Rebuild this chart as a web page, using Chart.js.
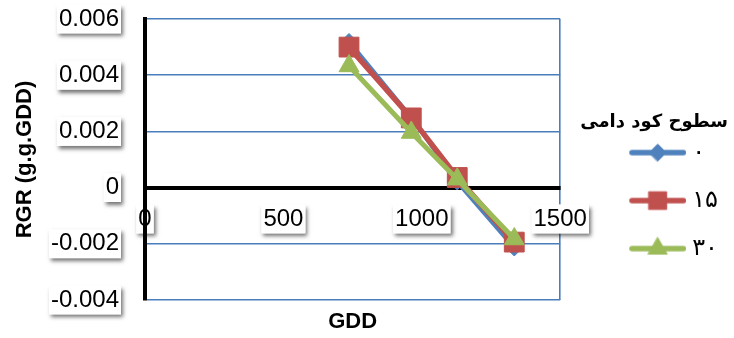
<!DOCTYPE html>
<html>
<head>
<meta charset="utf-8">
<script src="https://cdn.jsdelivr.net/npm/chart.js@4/dist/chart.umd.min.js"></script>
<style>
  html, body { margin: 0; padding: 0; background: #fff; }
  #wrap { width: 734px; height: 338px; }
</style>
</head>
<body>
<div id="wrap"><canvas id="rgr" width="734" height="338"></canvas></div>
<script>
// Growing degree days at each sampling date
const gdd = [737, 962, 1128, 1334];
// Relative growth rate for each manure level
const rgr0  = [0.0052, 0.0025, 0.0002, -0.00215];
const rgr15 = [0.0050, 0.00248, 0.00036, -0.00194];
const rgr30 = [0.00433, 0.00196, 0.0003, -0.00183];
// Manure levels (legend labels)
const levels = ['۰', '۱۵', '۳۰'];
const legendTitle = 'سطوح کود دامی';
// Axis tick labels
const xTickLabels = ['0', '500', '1000', '1500'];
const yTickLabels = ['-0.004', '-0.002', '0', '0.002', '0.004', '0.006'];

const BLUE = '#4F81BD', RED = '#C0504D', GREEN = '#9BBB59', GRID = '#4A7EBB';
const LATIN = "'Liberation Sans', Arial, 'DejaVu Sans', sans-serif";
const ARABIC = "'DejaVu Sans', sans-serif";

Chart.defaults.font.family = LATIN;
Chart.defaults.color = '#000';

const toPoints = vals => vals.map((v, i) => ({ x: gdd[i], y: v }));

const seriesStyle = [
  { color: BLUE,  shape: 'rectRot',  radius: 8,    legendRadius: 8.5,  width: 4,   order: 3 },
  { color: RED,   shape: 'rect',     radius: 14,   legendRadius: 12.5, width: 5.5, order: 2 },
  { color: GREEN, shape: 'triangle', radius: 11.5, legendRadius: 11,   width: 5,   order: 1 }
];
const seriesValues = [rgr0, rgr15, rgr30];

// Legend swatch: a short line with the series marker in the middle
const SWATCH_BOX = 96;
function legendSwatch(st) {
  const c = document.createElement('canvas');
  c.width = 108; c.height = 30;
  const g = c.getContext('2d');
  g.strokeStyle = st.color;
  g.lineWidth = 5.5;
  g.lineCap = 'round';
  g.beginPath(); g.moveTo(53.75, 15); g.lineTo(105.25, 15); g.stroke();
  g.fillStyle = st.color; g.lineWidth = 1;
  Chart.helpers.drawPoint(g, { pointStyle: st.shape, radius: st.legendRadius, rotation: 0, borderWidth: 1 }, 79.5, 15);
  return c;
}
const swatches = seriesStyle.map(legendSwatch);

// Soft drop shadow behind every tick label box
const labelShadow = {
  id: 'labelShadow',
  afterDatasetsDraw(chart) {
    const ctx = chart.ctx;
    ctx.save();
    ctx.shadowColor = 'rgba(0,0,0,0.55)';
    ctx.shadowBlur = 4;
    ctx.shadowOffsetX = 2;
    ctx.shadowOffsetY = 3;
    ctx.fillStyle = '#fff';
    ['x', 'y'].forEach(id => {
      chart.scales[id].getLabelItems().forEach(item => {
        const b = item.options.backdrop;
        if (!b) return;
        const [tx, ty] = item.options.translation;
        ctx.fillRect(tx + b.left, ty + b.top, b.width, b.height);
      });
    });
    ctx.restore();
  }
};

const tickFont = { family: LATIN, size: 24 };

new Chart(document.getElementById('rgr'), {
  type: 'line',
  data: {
    datasets: seriesValues.map((vals, i) => ({
      label: levels[i],
      data: toPoints(vals),
      borderColor: seriesStyle[i].color,
      backgroundColor: seriesStyle[i].color,
      borderWidth: seriesStyle[i].width,
      pointStyle: seriesStyle[i].shape,
      pointRadius: seriesStyle[i].radius,
      pointHoverRadius: seriesStyle[i].radius,
      pointBorderWidth: 1,
      pointBackgroundColor: seriesStyle[i].color,
      pointBorderColor: seriesStyle[i].color,
      tension: 0,
      order: seriesStyle[i].order
    }))
  },
  options: {
    responsive: false,
    animation: false,
    events: [],
    layout: { padding: { top: 19, left: 0, right: 6, bottom: 0 } },
    scales: {
      x: {
        type: 'linear',
        position: { y: 0 },
        min: 0, max: 1500,
        grid: {
          drawTicks: false,
          color: c => (c.tick && c.tick.value === 1500) ? GRID : 'rgba(0,0,0,0)',
          lineWidth: 1.6
        },
        border: { color: '#000', width: 4 },
        ticks: {
          stepSize: 500,
          padding: 17,
          font: tickFont,
          color: '#000',
          z: 1,
          showLabelBackdrop: true,
          backdropColor: '#fff',
          backdropPadding: { top: 0, bottom: 0, left: 2, right: 2 },
          maxRotation: 0,
          callback: (v, i) => xTickLabels[i]
        }
      },
      x2: {
        type: 'linear',
        position: 'bottom',
        grid: { display: false },
        border: { display: false },
        ticks: { display: false },
        title: {
          display: true,
          text: 'GDD',
          color: '#000',
          font: { family: LATIN, size: 22, weight: 'bold' },
          padding: { top: 0, bottom: 3 }
        },
        afterFit: s => { s.height = 38; }
      },
      y: {
        type: 'linear',
        position: 'left',
        min: -0.004, max: 0.006,
        grid: {
          drawTicks: false,
          color: c => (c.tick && c.tick.value === 0) ? 'rgba(0,0,0,0)' : GRID,
          lineWidth: 1.6
        },
        border: { color: '#000', width: 4, z: 1 },
        ticks: {
          stepSize: 0.002,
          padding: 26,
          font: tickFont,
          color: '#000',
          z: 1,
          showLabelBackdrop: true,
          backdropColor: '#fff',
          backdropPadding: { top: 0, bottom: 0, left: 2, right: 2 },
          callback: (v, i) => yTickLabels[i]
        },
        title: {
          display: true,
          text: 'RGR (g.g.GDD)',
          color: '#000',
          font: { family: LATIN, size: 22, weight: 'bold' },
          padding: { top: 12, bottom: 0 }
        },
        afterFit: s => {
          s.width = 145;
          // the plot edges are set by layout padding, not by label overhang
          s.paddingTop = 0;
          s.paddingBottom = 0;
        }
      }
    },
    plugins: {
      tooltip: { enabled: false },
      legend: {
        position: 'right',
        align: 'start',
        title: {
          display: true,
          text: legendTitle,
          position: 'end',
          color: '#000',
          font: { family: ARABIC, size: 18, weight: 'bold', lineHeight: 1.2 },
          padding: { top: 94, bottom: -18 }
        },
        labels: {
          usePointStyle: true,
          pointStyleWidth: SWATCH_BOX,
          padding: 24,
          color: '#000',
          font: { family: ARABIC, size: 24 },
          generateLabels(chart) {
            const items = Chart.defaults.plugins.legend.labels.generateLabels(chart);
            items.forEach(it => { it.pointStyle = swatches[it.datasetIndex]; });
            return items.sort((a, b) => a.datasetIndex - b.datasetIndex);
          }
        }
      }
    }
  },
  plugins: [labelShadow]
});
</script>
</body>
</html>
